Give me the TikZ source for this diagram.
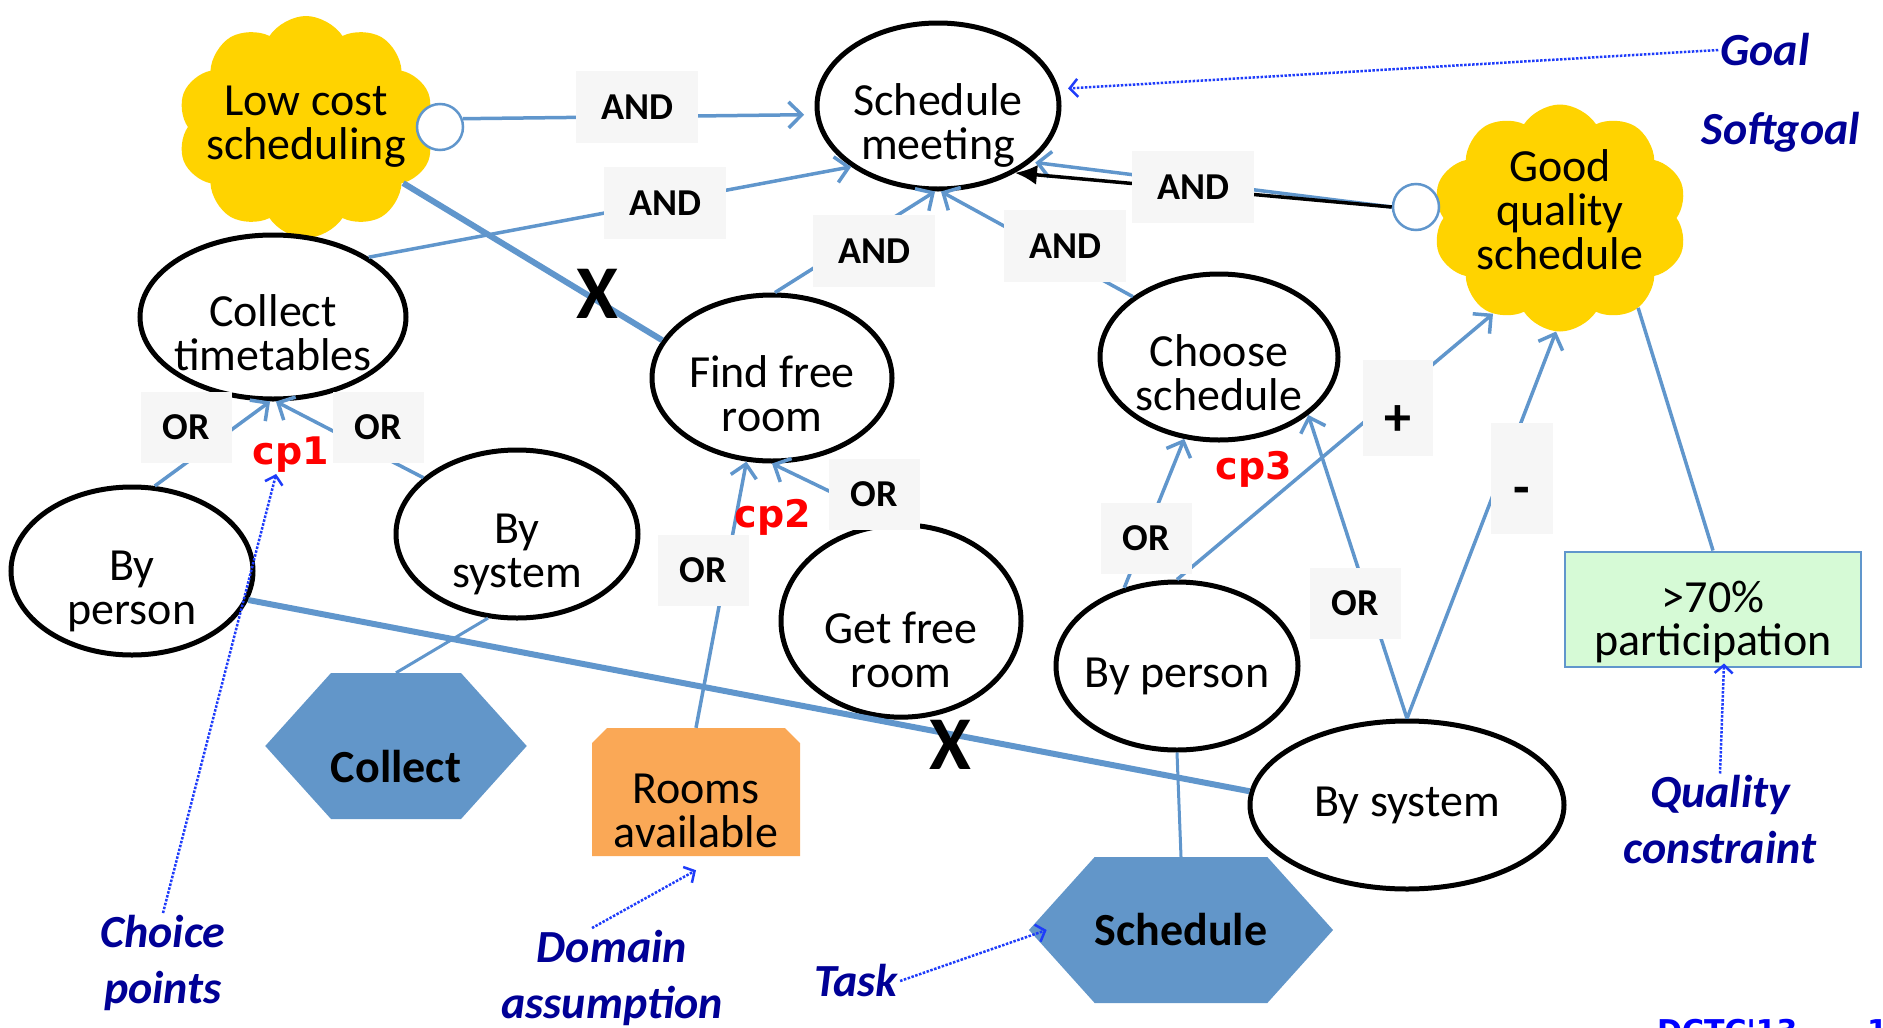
\documentclass[tikz,border=0pt]{standalone}
\usepackage{fontspec}
\setmainfont{Carlito}
\newfontfamily\cpfont{DejaVu Sans}
\usepackage{tikz}
\usetikzlibrary{shapes.geometric,shapes.symbols,shapes.misc,arrows.meta,positioning}
\definecolor{linkblue}{RGB}{96,150,204}
\definecolor{taskblue}{RGB}{98,150,201}
\definecolor{softyellow}{RGB}{255,211,0}
\definecolor{assumorange}{RGB}{250,168,86}
\definecolor{qcgreen}{RGB}{214,250,214}
\definecolor{boxgrey}{RGB}{246,246,246}
\definecolor{notenavy}{RGB}{0,0,150}
\definecolor{notearrow}{RGB}{30,60,250}
\tikzset
{
    goalnode/.style  = {ellipse, draw=black, line width=5pt, fill=white, align=center, inner sep=0pt, minimum width=242pt, minimum height=166pt, font=\fontsize{46}{44}\selectfont},
    lowered/.style   = {text height=108pt, text depth=2pt},
    softnode/.style  = {cloud, cloud puffs=10, cloud puff arc=115, cloud ignores aspect, fill=softyellow, align=center, inner xsep=-30pt, inner ysep=0pt, minimum width=257pt, minimum height=222pt, font=\fontsize{46}{44}\selectfont},
    contribdot/.style = {circle, draw=linkblue, line width=2.5pt, fill=white, inner sep=0pt, minimum size=46pt},
    tasknode/.style  = {signal, signal to=west and east, signal pointer angle=96, fill=taskblue, inner sep=0pt, minimum width=258pt, minimum height=146pt, font=\bfseries\fontsize{46}{44}\selectfont},
    assumnode/.style = {chamfered rectangle, chamfered rectangle corners={north west,north east}, chamfered rectangle xsep=12pt, fill=assumorange, align=center, inner sep=0pt, minimum width=208pt, minimum height=128pt, text height=112pt, text depth=2pt, font=\fontsize{46}{44}\selectfont},
    qcnode/.style    = {rectangle, draw=linkblue, line width=2pt, fill=qcgreen, align=center, inner sep=0pt, minimum width=296pt, minimum height=115pt, text height=94pt, text depth=2pt, font=\fontsize{46}{43}\selectfont},
    opbox/.style     = {fill=boxgrey, inner sep=0pt, minimum width=122pt, minimum height=72pt, font=\bfseries\fontsize{38}{38}\selectfont},
    orbox/.style     = {opbox, minimum width=91pt, minimum height=71pt},
    signbox/.style   = {opbox, minimum width=70pt, minimum height=96pt, text height=54pt, text depth=0pt, font=\bfseries\fontsize{54}{54}\selectfont},
    cplabel/.style   = {text=red, inner sep=1pt, font=\cpfont\bfseries\fontsize{38}{38}\selectfont},
    cutmark/.style   = {inner sep=0pt, font=\bfseries\fontsize{76}{76}\selectfont},
    notetext/.style  = {text=notenavy, align=center, inner sep=2pt, font=\bfseries\itshape\fontsize{46}{56}\selectfont},
    andlink/.style   = {->, draw=linkblue, line width=3.5pt},
    contrib/.style   = {draw=linkblue, line width=6pt},
    meanslink/.style = {draw=linkblue, line width=3pt},
    notelink/.style  = {->, >={Straight Barb[length=8pt,width=18pt]}, draw=notearrow, line width=2.5pt, dash pattern=on 2.5pt off 1.5pt}
}
\begin{document}
\begin{tikzpicture}[x=1pt, y=-1pt, >={Straight Barb[length=13pt,width=26pt]}]
    \useasboundingbox (0,0) rectangle (1883,1028);
    \node [softnode] (lowcost) at (306,127) {Low cost\\scheduling};
    \node [softnode, minimum width=255pt, minimum height=227pt, inner xsep=-20pt, text height=104pt, text depth=2pt] (goodqual) at (1560,218) {Good\\quality\\schedule};
    \node [contribdot] (lowdot) at (440,127) {};
    \node [contribdot] (gooddot) at (1416,207) {};
    \node [goalnode, lowered] (meeting) at (938,106) {Schedule\\meeting};
    \node [goalnode, lowered, minimum width=266pt, minimum height=164pt, inner xsep=-12pt] (timetables) at (273,317) {Collect\\timetables};
    \node [goalnode, lowered, minimum width=240pt] (freeroom) at (772,378) {Find free\\room};
    \node [goalnode, lowered, minimum width=238pt] (choosesch) at (1219,357) {Choose\\schedule};
    \node [goalnode, lowered, minimum height=168pt] (personone) at (132,571) {By\\person};
    \node [goalnode, lowered, minimum height=168pt] (systemone) at (517,534) {By\\system};
    \node [goalnode, minimum width=240pt, minimum height=168pt, text height=134pt, text depth=2pt] (getroom) at (901,621) {Get free\\room};
    \node [goalnode, minimum height=168pt, inner xsep=-15pt, text height=44pt, text depth=2pt] (persontwo) at (1177,666) {By person};
    \node [goalnode, minimum width=314pt, minimum height=168pt] (systemtwo) at (1407,805) {By system};
    \node [qcnode] (particip) at (1713,609) {>70\%\\participation};
    \node [tasknode, text height=72pt, text depth=0pt] (collect) at (396,746) {Collect};
    \node [assumnode] (rooms) at (696,792) {Rooms\\available};
    \node [tasknode] (schedtask) at (1181,930) {Schedule};

    \draw [andlink, shorten >=11pt] (lowdot.20) -- (meeting.184);
    \draw [andlink] (timetables.32) -- (meeting.215);
    \draw [andlink] (freeroom.88) -- (meeting.268);
    \draw [andlink] (choosesch.145) -- (meeting.272);
    \draw [andlink, shorten >=4pt] (gooddot.west) -- (meeting.-31);
    \draw [->, >={Latex[length=22pt,width=20pt]}, line width=3.5pt] (gooddot.west) -- (meeting.-41);
    \draw [contrib] (lowcost.-30) -- (freeroom.161);
    \draw [contrib] (personone.-14) -- (systemtwo.175);
    \draw [andlink] (personone.75) -- (timetables.268);
    \draw [andlink] (systemone.149) -- (timetables.272);
    \draw [meanslink] (collect.north) -- (systemone.251);
    \draw [andlink] (rooms.north) -- (freeroom.253);
    \draw [andlink] (getroom.94) -- (freeroom.270);
    \draw [andlink] (persontwo.124) -- (choosesch.247);
    \draw [andlink] (systemtwo.north) -- (choosesch.-33);
    \draw [andlink] (persontwo.north) -- (goodqual.235);
    \draw [andlink] (systemtwo.north) -- (goodqual.268);
    \draw [meanslink, line width=3.5pt] (particip.north) -- (goodqual.-49);
    \draw [meanslink] (schedtask.north) -- (persontwo.south);

    \node [opbox] (andone) at (637,107) {AND};
    \node [opbox] (andtwo) at (665,203) {AND};
    \node [opbox] (andthree) at (874,251) {AND};
    \node [opbox] (andfour) at (1065,246) {AND};
    \node [opbox] (andfive) at (1193,187) {AND};
    \node [orbox] (orone) at (186,427) {OR};
    \node [orbox] (ortwo) at (378,427) {OR};
    \node [orbox] (orthree) at (874,494) {OR};
    \node [orbox] (orfour) at (703,570) {OR};
    \node [orbox] (orfive) at (1146,538) {OR};
    \node [orbox] (orsix) at (1355,603) {OR};
    \node [signbox] (plus) at (1398,408) {+};
    \node [signbox, minimum width=62pt, minimum height=111pt] (minus) at (1522,478) {-};

    \node [cplabel] (cpone) at (291,455) {cp1};
    \node [cplabel] (cptwo) at (773,517) {cp2};
    \node [cplabel] (cpthree) at (1254,469) {cp3};
    \node [cutmark] (cutone) at (597,294) {X};
    \node [cutmark] (cuttwo) at (950,745) {X};

    \node [notetext] (goal) at (1765,50) {Goal};
    \node [notetext] (softgoal) at (1781,132) {Softgoal};
    \node [notetext] (choice) at (163,963) {Choice\\points};
    \node [notetext] (domain) at (612,978) {Domain\\assumption};
    \node [notetext] (task) at (856,981) {Task};
    \node [notetext] (quality) at (1720,820) {Quality\\constraint};
    \node [anchor=north west, inner sep=0pt, text=blue, font=\cpfont\bfseries\fontsize{30}{30}\selectfont] (dctc) at (1657,1019) {DCTC'13};
    \node [anchor=north west, inner sep=0pt, text=blue, font=\cpfont\bfseries\fontsize{30}{30}\selectfont] (pageno) at (1867,1019) {1};

    \draw [notelink, shorten >=9pt] (goal.west) -- (meeting.8);
    \draw [notelink] (choice.north) -- (cpone.232);
    \draw [notelink] ([xshift=-20pt]domain.north) -- ([yshift=-14pt]rooms.south);
    \draw [notelink] (task.east) -- ([xshift=18pt]schedtask.west);
    \draw [notelink] (quality.north) -- ([xshift=11pt,yshift=4pt]particip.south);
\end{tikzpicture}
\end{document}
